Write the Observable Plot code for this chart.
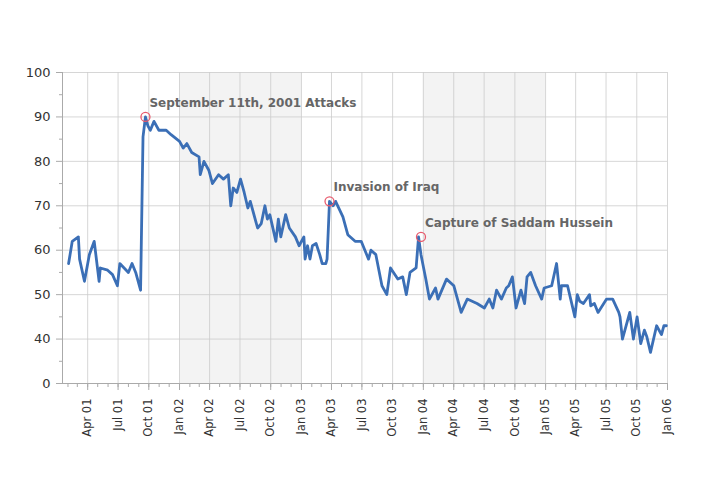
<!DOCTYPE html>
<html><head><meta charset="utf-8">
<script src="https://cdn.jsdelivr.net/npm/d3@7"></script>
<script src="https://cdn.jsdelivr.net/npm/@observablehq/plot@0.6"></script>
<style>body{margin:0;background:#fff;font-family:"DejaVu Sans",sans-serif}</style>
</head><body><div id="chart"></div>
<script>
const years = [2001.09,2001.12,2001.17,2001.18,2001.22,2001.26,2001.30,2001.34,2001.35,2001.41,2001.45,2001.49,2001.51,2001.58,2001.61,2001.64,2001.68,2001.70,2001.72,2001.74,2001.76,2001.79,2001.83,2001.89,2001.93,2002.00,2002.03,2002.06,2002.10,2002.16,2002.17,2002.20,2002.24,2002.27,2002.32,2002.36,2002.40,2002.42,2002.44,2002.47,2002.50,2002.53,2002.56,2002.58,2002.64,2002.67,2002.70,2002.72,2002.74,2002.79,2002.81,2002.83,2002.87,2002.90,2002.95,2002.98,2003.02,2003.03,2003.05,2003.07,2003.09,2003.12,2003.15,2003.17,2003.20,2003.21,2003.23,2003.26,2003.28,2003.34,2003.38,2003.44,2003.46,2003.49,2003.52,2003.55,2003.57,2003.61,2003.66,2003.70,2003.73,2003.79,2003.83,2003.86,2003.89,2003.94,2003.96,2003.98,2004.02,2004.05,2004.10,2004.12,2004.19,2004.25,2004.31,2004.36,2004.44,2004.50,2004.54,2004.57,2004.60,2004.64,2004.68,2004.70,2004.73,2004.76,2004.80,2004.83,2004.85,2004.88,2004.92,2004.97,2004.99,2005.05,2005.09,2005.12,2005.13,2005.18,2005.24,2005.26,2005.28,2005.31,2005.36,2005.37,2005.40,2005.43,2005.50,2005.55,2005.60,2005.61,2005.63,2005.68,2005.69,2005.72,2005.75,2005.78,2005.81,2005.83,2005.86,2005.91,2005.95,2005.97,2005.99,2006.00];
const approval = [57,62,63,58,53,59,62,53,56,55.5,54.5,52,57,55,57,55,51,85.5,90,88,87,89,87,87,86,84.5,83,84,82,81,77,80,78,75,77,76,77,70,74,73,76,73,69.5,71,65,66,70,67,68,62,67,63,68,65,63,61,63,58,61,58,61,61.5,59,57,57,58,71,70,71,67.5,63.5,62,62,62,60,58,60,59,52,50,56,53.5,54,50,55,56,63,59,53.5,49,51.5,49,53.5,52,46,49,48,47,49,47,51,49,51.5,52,54,47,51,48,54,55,52,49,51.5,52,57,49,52,52,45,50,48.5,48,50,47.5,48,46,49,49,46,45,40,45,46,40,45,39,42,40.5,37,43,41,43,43];
const eventNames = ["September 11th, 2001 Attacks","Invasion of Iraq","Capture of Saddam Hussein"];
const eventYears = [2001.72,2003.23,2003.98];
const eventValues = [90,71,63];
const bandStarts = ["2002-01-01","2004-01-01"];
const bandEnds = ["2003-01-01","2005-01-01"];
const yTicks = [30,40,50,60,70,80,90,100];
const yTickLabels = ["0","40","50","60","70","80","90","100"];

const toDate = y => { const yr = Math.floor(y); return new Date(Date.UTC(yr,0,1) + (y-yr)*365.25*864e5); };
const data = years.map((y,i)=>({date: toDate(y), value: approval[i]}));
const events = eventNames.map((n,i)=>({name:n, date: toDate(eventYears[i]), value: eventValues[i]}));
const bands = bandStarts.map((s,i)=>({x1:new Date(s), x2:new Date(bandEnds[i])}));
const x0 = toDate(2001.04), x1 = new Date("2006-01-01");
const quarters = d3.utcMonth.every(3).range(new Date("2001-04-01"), new Date("2006-01-02"));
const months = d3.utcMonth.range(new Date("2001-02-01"), new Date("2006-01-02"));
const fmt = d3.utcFormat("%b %y");

const chart = Plot.plot({
  width: 704, height: 492,
  marginLeft: 62, marginRight: 37, marginTop: 72, marginBottom: 109,
  style: {fontFamily: '"DejaVu Sans", sans-serif', fontSize: "12px", color: "#333"},
  x: {type: "utc", domain: [x0, x1], label: null},
  y: {domain: [30, 100], label: null},
  marks: [
    Plot.rectY(bands, {x1: "x1", x2: "x2", y1: 30, y2: 100, fill: "#f3f3f3"}),
    Plot.gridX(quarters, {stroke: "#ccc", strokeOpacity: 0.8}),
    Plot.gridY(yTicks, {stroke: "#ccc", strokeOpacity: 0.8}),
    Plot.axisY(d3.range(35, 100, 10), {tickSize: 3, tickFormat: () => "", stroke: "#aaa", label: null}),
    Plot.axisY(yTicks, {tickSize: 6, tickFormat: (d) => yTickLabels[yTicks.indexOf(d)], fontSize: 13, fill: "#333", stroke: "#aaa", label: null, tickPadding: 6}),
    Plot.axisX(months, {tickSize: 4, tickFormat: () => "", stroke: "#aaa", label: null}),
    Plot.axisX(quarters, {tickSize: 7, tickFormat: fmt, tickRotate: -90, fontSize: 11.5, fill: "#333", stroke: "#aaa", label: null, tickPadding: 8}),
    Plot.ruleX([x0], {stroke: "#aaa"}),
    Plot.ruleY([30], {stroke: "#aaa"}),
    Plot.lineY(data, {x: "date", y: "value", stroke: "#3b6fb6", strokeWidth: 2.8}),
    Plot.dot(events, {x: "date", y: "value", r: 4.5, stroke: "#e8596c", strokeWidth: 1.3, fill: "none"}),
    Plot.text(events, {x: "date", y: "value", text: "name", dx: 4, dy: -14, textAnchor: "start", fontWeight: "bold", fill: "#666", fontSize: 12})
  ]
});
document.getElementById("chart").appendChild(chart);
</script></body></html>
